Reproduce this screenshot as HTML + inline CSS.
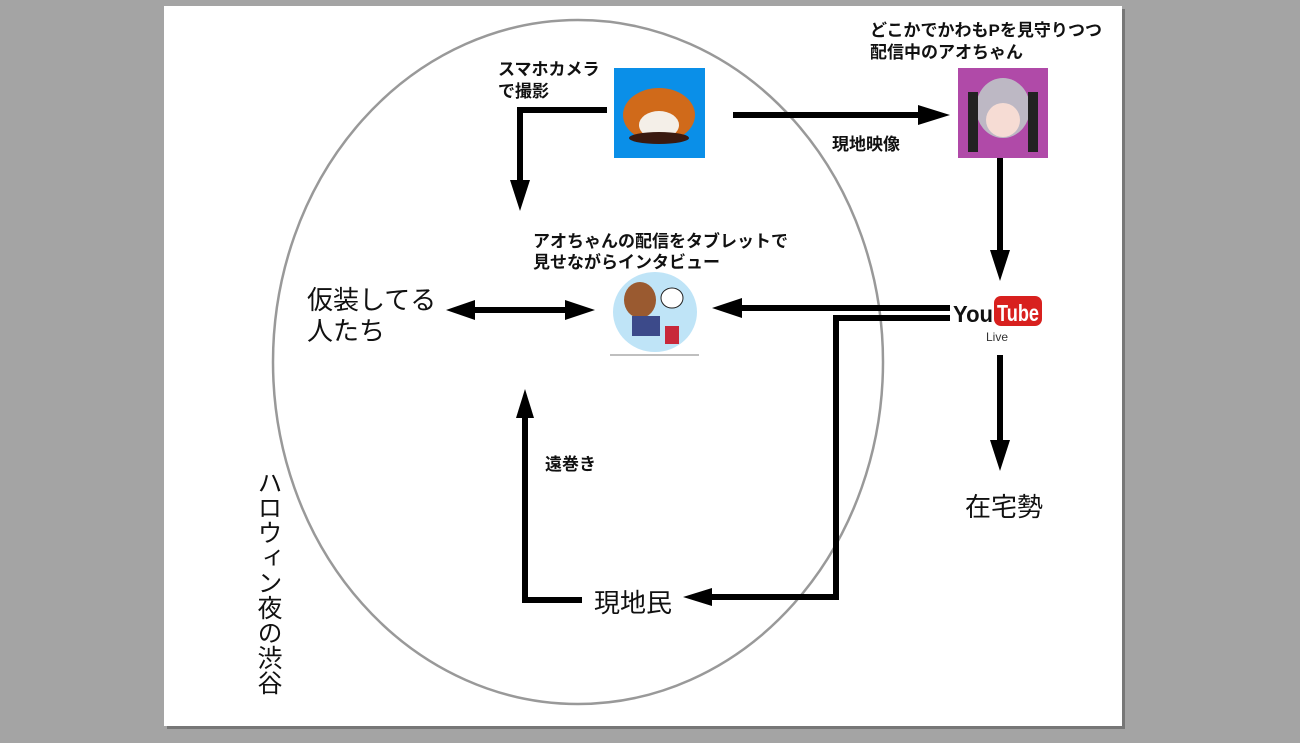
<!DOCTYPE html>
<html><head><meta charset="utf-8"><style>
html,body{margin:0;padding:0;background:#a4a4a4;width:1300px;height:743px;overflow:hidden}
svg{position:absolute;left:0;top:0}
text{font-family:"Liberation Sans","Noto Sans CJK JP",sans-serif;fill:#111}
.b{font-weight:bold;font-size:17px}
</style></head><body>
<svg width="1300" height="743" viewBox="0 0 1300 743">
<rect x="167" y="9" width="958" height="720" fill="#777"/>
<rect x="164" y="6" width="958" height="720" fill="#fff"/>
<ellipse cx="578" cy="362" rx="305" ry="342" fill="none" stroke="#999" stroke-width="2.5"/>
<g fill="#000" stroke="#000">
<polyline points="607,110 520,110 520,182" fill="none" stroke-width="6"/>
<polygon points="510,180 530,180 520,211" stroke="none"/>
<line x1="733" y1="115" x2="920" y2="115" stroke-width="6"/>
<polygon points="918,105 918,125 950,115" stroke="none"/>
<line x1="1000" y1="158" x2="1000" y2="252" stroke-width="6"/>
<polygon points="990,250 1010,250 1000,281" stroke="none"/>
<line x1="950" y1="308" x2="740" y2="308" stroke-width="6"/>
<polygon points="742,298 742,318 712,308" stroke="none"/>
<polyline points="950,318 836,318 836,597 710,597" fill="none" stroke-width="6"/>
<polygon points="712,588 712,606 683,597" stroke="none"/>
<line x1="470" y1="310" x2="570" y2="310" stroke-width="6"/>
<polygon points="475,300 475,320 446,310" stroke="none"/>
<polygon points="565,300 565,320 595,310" stroke="none"/>
<polyline points="582,600 525,600 525,415" fill="none" stroke-width="6"/>
<polygon points="516,418 534,418 525,389" stroke="none"/>
<line x1="1000" y1="355" x2="1000" y2="442" stroke-width="6"/>
<polygon points="990,440 1010,440 1000,471" stroke="none"/>
</g>
<rect x="614" y="68" width="91" height="90" fill="#0a8fe8"/>
<ellipse cx="659" cy="115" rx="36" ry="27" fill="#d06a1a"/>
<ellipse cx="659" cy="125" rx="20" ry="14" fill="#f4efe8"/>
<ellipse cx="659" cy="138" rx="30" ry="6" fill="#3a1a10"/>
<rect x="958" y="68" width="90" height="90" fill="#b04aa8"/>
<ellipse cx="1003" cy="108" rx="27" ry="30" fill="#bdb8c4"/>
<ellipse cx="1003" cy="120" rx="17" ry="17" fill="#f6dcd4"/>
<rect x="968" y="92" width="10" height="60" fill="#222"/>
<rect x="1028" y="92" width="10" height="60" fill="#222"/>
<ellipse cx="655" cy="312" rx="42" ry="40" fill="#bfe4f7"/>
<ellipse cx="640" cy="300" rx="16" ry="18" fill="#9a5a30"/>
<ellipse cx="672" cy="298" rx="11" ry="10" fill="#fff" stroke="#222"/>
<rect x="632" y="316" width="28" height="20" fill="#3c4a8a"/>
<rect x="665" y="326" width="14" height="18" fill="#c8283a"/>
<line x1="610" y1="355" x2="699" y2="355" stroke="#aaa" stroke-width="1.5"/>
<text x="953" y="322" textLength="40" lengthAdjust="spacingAndGlyphs" style="font-size:23px;font-weight:bold" fill="#222">You</text>
<rect x="994" y="296" width="48" height="30" rx="7" fill="#d8201e"/>
<text x="997" y="321" textLength="42" lengthAdjust="spacingAndGlyphs" style="font-size:23px;font-weight:bold;fill:#fff">Tube</text>
<text x="986" y="341" style="font-size:12px;fill:#333">Live</text>
<text class="b" x="870" y="36">どこかでかわもPを見守りつつ</text>
<text class="b" x="870" y="58">配信中のアオちゃん</text>
<text class="b" x="498" y="75">スマホカメラ</text>
<text class="b" x="498" y="97">で撮影</text>
<text class="b" x="832" y="150">現地映像</text>
<text class="b" x="533" y="247">アオちゃんの配信をタブレットで</text>
<text class="b" x="533" y="268">見せながらインタビュー</text>
<text x="307" y="309" style="font-size:26px">仮装してる</text>
<text x="307" y="340" style="font-size:26px">人たち</text>
<text class="b" x="545" y="470">遠巻き</text>
<text x="594" y="612" style="font-size:26px">現地民</text>
<text x="965" y="516" style="font-size:26px">在宅勢</text>
<text x="268" y="470" style="font-size:25px;writing-mode:vertical-rl">ハロウィン夜の渋谷</text>
</svg>
</body></html>
